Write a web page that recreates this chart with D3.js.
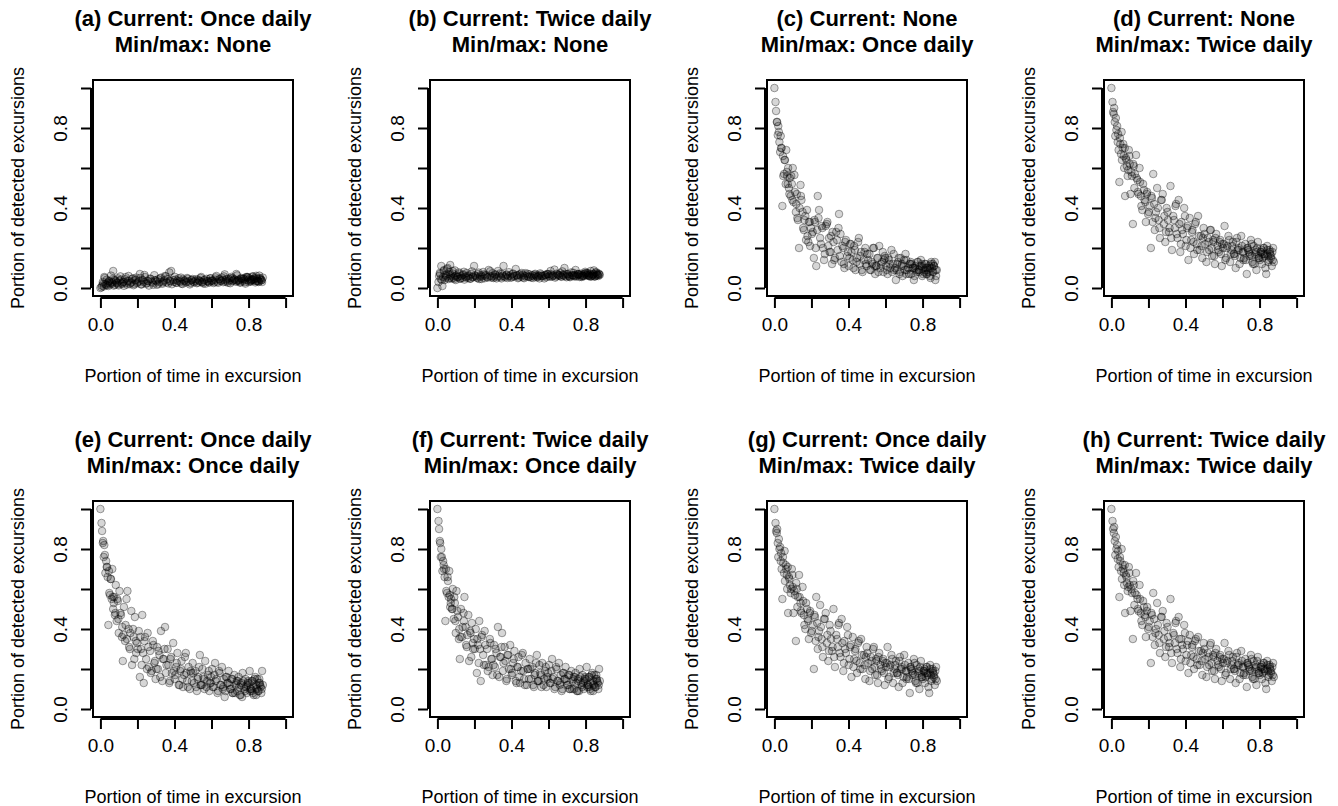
<!DOCTYPE html>
<html>
<head>
<meta charset="utf-8">
<script src="https://cdn.jsdelivr.net/npm/d3@7"></script>
<style>
  body { margin: 0; background: #fff; }
  text { font-family: "Liberation Sans", Arial, sans-serif; fill: #000; }
</style>
</head>
<body>
<div id="chart"></div>
<script>
// portion of time in excursion (same simulated series in every panel)
var timeInExcursion = [
  0.000, 0.006, 0.009, 0.013, 0.018, 0.021, 0.027, 0.031, 0.034, 0.039,
  0.043, 0.046, 0.052, 0.057, 0.061, 0.064, 0.069, 0.074, 0.078, 0.083,
  0.088, 0.094, 0.099, 0.103, 0.108, 0.116, 0.121, 0.127, 0.133, 0.141,
  0.146, 0.152, 0.159, 0.167, 0.171, 0.179, 0.186, 0.193, 0.198, 0.207,
  0.213, 0.219, 0.226, 0.234, 0.241, 0.247, 0.255, 0.262, 0.268, 0.277,
  0.283, 0.291, 0.298, 0.306, 0.311, 0.319, 0.327, 0.334, 0.342, 0.349,
  0.357, 0.363, 0.372, 0.378, 0.386, 0.393, 0.401, 0.409, 0.416, 0.423,
  0.431, 0.438, 0.446, 0.452, 0.461, 0.468, 0.476, 0.483, 0.491, 0.498,
  0.506, 0.513, 0.521, 0.528, 0.537, 0.544, 0.551, 0.559, 0.566, 0.573,
  0.581, 0.588, 0.596, 0.603, 0.611, 0.619, 0.626, 0.632, 0.641, 0.648,
  0.656, 0.663, 0.671, 0.678, 0.686, 0.692, 0.701, 0.708, 0.716, 0.723,
  0.731, 0.738, 0.746, 0.753, 0.761, 0.768, 0.776, 0.783, 0.791, 0.798,
  0.806, 0.813, 0.821, 0.828, 0.836, 0.843, 0.851, 0.858, 0.866, 0.873,
  0.861, 0.869, 0.877, 0.845, 0.832, 0.818, 0.802, 0.787, 0.765, 0.742,
  0.015, 0.024, 0.036, 0.048, 0.055, 0.067, 0.072, 0.081, 0.091, 0.097,
  0.111, 0.118, 0.124, 0.136, 0.143, 0.155, 0.162, 0.176, 0.183, 0.191,
  0.202, 0.216, 0.223, 0.231, 0.238, 0.251, 0.259, 0.272, 0.286, 0.295,
  0.303, 0.314, 0.323, 0.338, 0.346, 0.353, 0.367, 0.375, 0.382, 0.397,
  0.405, 0.412, 0.427, 0.435, 0.443, 0.456, 0.464, 0.472, 0.487, 0.494,
  0.502, 0.517, 0.525, 0.533, 0.541, 0.555, 0.562, 0.577, 0.585, 0.592,
  0.607, 0.615, 0.622, 0.636, 0.644, 0.652, 0.667, 0.675, 0.682, 0.697,
  0.705, 0.712, 0.727, 0.734, 0.749, 0.757, 0.772, 0.779, 0.794, 0.809,
  0.817, 0.824, 0.839, 0.847, 0.854, 0.862, 0.871, 0.856, 0.841, 0.826,
  0.811, 0.796, 0.781, 0.758, 0.736, 0.713, 0.689, 0.661, 0.598, 0.549
];

// portion of detected excursions, one array per panel
var detectedA = [
  0.000, 0.004, 0.012, 0.030, 0.008, 0.055, 0.020, 0.015, 0.041, 0.025,
  0.010, 0.035, 0.018, 0.062, 0.028, 0.022, 0.085, 0.040, 0.016, 0.032,
  0.024, 0.048, 0.013, 0.037, 0.058, 0.021, 0.030, 0.011, 0.044, 0.026,
  0.035, 0.060, 0.019, 0.028, 0.046, 0.014, 0.038, 0.052, 0.024, 0.033,
  0.070, 0.018, 0.041, 0.029, 0.055, 0.022, 0.036, 0.012, 0.047, 0.031,
  0.025, 0.064, 0.038, 0.016, 0.043, 0.030, 0.052, 0.021, 0.035, 0.060,
  0.028, 0.045, 0.078, 0.033, 0.019, 0.040, 0.056, 0.026, 0.037, 0.048,
  0.030, 0.022, 0.043, 0.035, 0.027, 0.050, 0.032, 0.018, 0.039, 0.045,
  0.028, 0.036, 0.024, 0.041, 0.033, 0.055, 0.029, 0.038, 0.021, 0.046,
  0.034, 0.027, 0.049, 0.037, 0.025, 0.042, 0.060, 0.031, 0.045, 0.036,
  0.052, 0.029, 0.068, 0.040, 0.033, 0.047, 0.024, 0.056, 0.038, 0.044,
  0.031, 0.063, 0.042, 0.027, 0.050, 0.036, 0.045, 0.022, 0.054, 0.039,
  0.047, 0.033, 0.058, 0.040, 0.028, 0.051, 0.036, 0.062, 0.043, 0.030,
  0.045, 0.038, 0.052, 0.034, 0.048, 0.041, 0.030, 0.055, 0.046, 0.037,
  0.022, 0.050, 0.014, 0.033, 0.026, 0.045, 0.012, 0.038, 0.027, 0.019,
  0.042, 0.023, 0.031, 0.054, 0.017, 0.036, 0.025, 0.048, 0.020, 0.041,
  0.029, 0.050, 0.018, 0.037, 0.065, 0.024, 0.034, 0.045, 0.016, 0.039,
  0.033, 0.021, 0.048, 0.028, 0.040, 0.058, 0.023, 0.036, 0.085, 0.030,
  0.042, 0.026, 0.035, 0.052, 0.020, 0.038, 0.031, 0.046, 0.025, 0.040,
  0.032, 0.044, 0.027, 0.036, 0.050, 0.023, 0.041, 0.034, 0.029, 0.048,
  0.037, 0.030, 0.053, 0.026, 0.043, 0.035, 0.058, 0.031, 0.046, 0.039,
  0.049, 0.034, 0.041, 0.070, 0.036, 0.028, 0.047, 0.039, 0.055, 0.033,
  0.042, 0.057, 0.035, 0.045, 0.030, 0.050, 0.040, 0.033, 0.061, 0.044,
  0.038, 0.052, 0.029, 0.046, 0.035, 0.049, 0.026, 0.041, 0.036, 0.030
];
var detectedB = [
  0.000, 0.030, 0.060, 0.075, 0.045, 0.110, 0.010, 0.055, 0.085, 0.040,
  0.065, 0.050, 0.095, 0.070, 0.045, 0.080, 0.115, 0.058, 0.048, 0.072,
  0.052, 0.088, 0.040, 0.063, 0.055, 0.078, 0.046, 0.060, 0.050, 0.068,
  0.042, 0.057, 0.075, 0.051, 0.062, 0.047, 0.083, 0.056, 0.110, 0.060,
  0.053, 0.070, 0.045, 0.064, 0.058, 0.080, 0.049, 0.066, 0.055, 0.090,
  0.061, 0.052, 0.074, 0.057, 0.068, 0.048, 0.085, 0.060, 0.054, 0.071,
  0.110, 0.058, 0.066, 0.050, 0.079, 0.062, 0.055, 0.072, 0.060, 0.095,
  0.063, 0.053, 0.070, 0.058, 0.066, 0.049, 0.074, 0.061, 0.056, 0.068,
  0.052, 0.064, 0.058, 0.071, 0.055, 0.062, 0.048, 0.067, 0.059, 0.060,
  0.065, 0.054, 0.070, 0.060, 0.085, 0.057, 0.063, 0.092, 0.058, 0.068,
  0.061, 0.075, 0.056, 0.066, 0.100, 0.059, 0.070, 0.062, 0.054, 0.078,
  0.064, 0.058, 0.090, 0.061, 0.067, 0.055, 0.072, 0.063, 0.059, 0.081,
  0.066, 0.074, 0.060, 0.085, 0.062, 0.070, 0.057, 0.079, 0.065, 0.068,
  0.072, 0.060, 0.066, 0.088, 0.058, 0.064, 0.075, 0.061, 0.070, 0.063,
  0.070, 0.040, 0.090, 0.058, 0.100, 0.050, 0.066, 0.085, 0.045, 0.060,
  0.055, 0.072, 0.048, 0.065, 0.081, 0.052, 0.059, 0.046, 0.070, 0.054,
  0.063, 0.049, 0.077, 0.057, 0.045, 0.068, 0.060, 0.052, 0.084, 0.058,
  0.050, 0.066, 0.056, 0.073, 0.048, 0.061, 0.054, 0.067, 0.059, 0.051,
  0.070, 0.057, 0.063, 0.049, 0.065, 0.075, 0.053, 0.060, 0.071, 0.055,
  0.058, 0.050, 0.067, 0.062, 0.054, 0.073, 0.060, 0.048, 0.064, 0.070,
  0.056, 0.068, 0.061, 0.052, 0.072, 0.066, 0.058, 0.083, 0.062, 0.054,
  0.069, 0.060, 0.064, 0.076, 0.057, 0.071, 0.063, 0.055, 0.068, 0.074,
  0.060, 0.070, 0.064, 0.058, 0.077, 0.066, 0.072, 0.061, 0.069, 0.057,
  0.065, 0.073, 0.059, 0.068, 0.062, 0.057, 0.071, 0.064, 0.069, 0.060
];
var detectedC = [
  1.000, 0.930, 0.885, 0.830, 0.765, 0.810, 0.730, 0.680, 0.760, 0.700,
  0.410, 0.660, 0.570, 0.640, 0.520, 0.690, 0.560, 0.600, 0.500, 0.550,
  0.460, 0.520, 0.600, 0.430, 0.565, 0.380, 0.470, 0.340, 0.200, 0.515,
  0.440, 0.380, 0.290, 0.360, 0.240, 0.260, 0.330, 0.210, 0.300, 0.280,
  0.150, 0.330, 0.110, 0.460, 0.390, 0.250, 0.310, 0.200, 0.140, 0.310,
  0.320, 0.210, 0.180, 0.260, 0.120, 0.230, 0.150, 0.280, 0.190, 0.370,
  0.270, 0.130, 0.200, 0.100, 0.240, 0.160, 0.110, 0.220, 0.180, 0.140,
  0.210, 0.090, 0.150, 0.230, 0.120, 0.180, 0.080, 0.140, 0.200, 0.110,
  0.140, 0.170, 0.090, 0.120, 0.200, 0.070, 0.110, 0.150, 0.210, 0.100,
  0.130, 0.080, 0.160, 0.110, 0.070, 0.140, 0.100, 0.190, 0.120, 0.090,
  0.040, 0.120, 0.150, 0.080, 0.110, 0.060, 0.140, 0.170, 0.090, 0.100,
  0.120, 0.070, 0.100, 0.040, 0.110, 0.080, 0.130, 0.090, 0.140, 0.060,
  0.100, 0.120, 0.070, 0.090, 0.110, 0.050, 0.100, 0.080, 0.130, 0.060,
  0.110, 0.040, 0.090, 0.120, 0.080, 0.100, 0.070, 0.110, 0.090, 0.120,
  0.830, 0.780, 0.700, 0.560, 0.640, 0.580, 0.520, 0.470, 0.560, 0.440,
  0.480, 0.420, 0.350, 0.400, 0.460, 0.300, 0.340, 0.390, 0.230, 0.330,
  0.270, 0.340, 0.200, 0.290, 0.350, 0.220, 0.300, 0.170, 0.330, 0.250,
  0.180, 0.280, 0.140, 0.240, 0.300, 0.160, 0.210, 0.120, 0.230, 0.180,
  0.150, 0.220, 0.100, 0.190, 0.130, 0.250, 0.160, 0.090, 0.180, 0.120,
  0.170, 0.090, 0.130, 0.200, 0.110, 0.150, 0.080, 0.120, 0.180, 0.140,
  0.090, 0.150, 0.120, 0.080, 0.170, 0.100, 0.130, 0.070, 0.150, 0.110,
  0.090, 0.140, 0.070, 0.120, 0.100, 0.060, 0.130, 0.090, 0.110, 0.080,
  0.120, 0.070, 0.100, 0.130, 0.080, 0.110, 0.090, 0.120, 0.060, 0.100,
  0.090, 0.120, 0.080, 0.100, 0.130, 0.070, 0.120, 0.090, 0.150, 0.110
];
var detectedD = [
  1.000, 0.930, 0.880, 0.870, 0.830, 0.760, 0.790, 0.810, 0.730, 0.690,
  0.530, 0.750, 0.670, 0.640, 0.700, 0.720, 0.600, 0.460, 0.650, 0.610,
  0.560, 0.690, 0.620, 0.470, 0.580, 0.320, 0.610, 0.570, 0.665, 0.540,
  0.470, 0.600, 0.460, 0.390, 0.520, 0.440, 0.330, 0.480, 0.370, 0.410,
  0.200, 0.450, 0.570, 0.290, 0.380, 0.500, 0.340, 0.250, 0.440, 0.470,
  0.320, 0.230, 0.400, 0.340, 0.280, 0.510, 0.190, 0.360, 0.300, 0.420,
  0.250, 0.440, 0.180, 0.330, 0.270, 0.400, 0.210, 0.300, 0.140, 0.350,
  0.240, 0.290, 0.170, 0.320, 0.220, 0.360, 0.190, 0.260, 0.150, 0.300,
  0.220, 0.130, 0.250, 0.190, 0.290, 0.160, 0.230, 0.120, 0.270, 0.210,
  0.180, 0.240, 0.110, 0.200, 0.310, 0.150, 0.210, 0.260, 0.130, 0.190,
  0.230, 0.170, 0.100, 0.250, 0.200, 0.120, 0.260, 0.180, 0.150, 0.220,
  0.070, 0.190, 0.160, 0.240, 0.130, 0.210, 0.170, 0.090, 0.230, 0.150,
  0.180, 0.120, 0.200, 0.160, 0.070, 0.190, 0.140, 0.170, 0.110, 0.200,
  0.150, 0.180, 0.130, 0.160, 0.100, 0.170, 0.140, 0.200, 0.120, 0.180,
  0.900, 0.850, 0.770, 0.720, 0.780, 0.660, 0.700, 0.640, 0.590, 0.660,
  0.560, 0.620, 0.500, 0.550, 0.480, 0.530, 0.410, 0.490, 0.430, 0.470,
  0.380, 0.460, 0.330, 0.420, 0.350, 0.400, 0.300, 0.440, 0.360, 0.280,
  0.380, 0.300, 0.250, 0.340, 0.410, 0.270, 0.320, 0.220, 0.290, 0.360,
  0.240, 0.310, 0.200, 0.280, 0.230, 0.330, 0.190, 0.260, 0.210, 0.250,
  0.270, 0.180, 0.230, 0.290, 0.200, 0.160, 0.250, 0.190, 0.230, 0.170,
  0.220, 0.140, 0.200, 0.240, 0.170, 0.210, 0.160, 0.230, 0.190, 0.150,
  0.210, 0.180, 0.140, 0.200, 0.170, 0.220, 0.120, 0.190, 0.160, 0.180,
  0.150, 0.200, 0.170, 0.130, 0.190, 0.160, 0.140, 0.180, 0.210, 0.170,
  0.190, 0.150, 0.180, 0.160, 0.200, 0.140, 0.190, 0.170, 0.220, 0.240
];
var detectedE = [
  1.000, 0.930, 0.890, 0.830, 0.760, 0.820, 0.680, 0.740, 0.710, 0.660,
  0.420, 0.690, 0.570, 0.650, 0.550, 0.700, 0.500, 0.560, 0.470, 0.620,
  0.440, 0.540, 0.380, 0.590, 0.480, 0.360, 0.240, 0.510, 0.340, 0.550,
  0.590, 0.400, 0.300, 0.490, 0.220, 0.360, 0.460, 0.280, 0.330, 0.390,
  0.160, 0.300, 0.470, 0.130, 0.360, 0.250, 0.380, 0.210, 0.290, 0.190,
  0.340, 0.230, 0.150, 0.310, 0.200, 0.270, 0.390, 0.140, 0.250, 0.410,
  0.220, 0.300, 0.130, 0.250, 0.180, 0.330, 0.150, 0.210, 0.280, 0.120,
  0.190, 0.240, 0.110, 0.170, 0.280, 0.140, 0.210, 0.100, 0.180, 0.230,
  0.130, 0.190, 0.090, 0.160, 0.270, 0.120, 0.200, 0.150, 0.240, 0.110,
  0.170, 0.090, 0.130, 0.200, 0.110, 0.230, 0.150, 0.080, 0.190, 0.120,
  0.210, 0.110, 0.060, 0.160, 0.130, 0.190, 0.100, 0.150, 0.080, 0.170,
  0.120, 0.090, 0.160, 0.070, 0.130, 0.180, 0.110, 0.150, 0.080, 0.140,
  0.190, 0.100, 0.140, 0.070, 0.160, 0.120, 0.090, 0.150, 0.110, 0.190,
  0.130, 0.080, 0.120, 0.100, 0.150, 0.090, 0.130, 0.110, 0.060, 0.140,
  0.840, 0.770, 0.710, 0.580, 0.650, 0.560, 0.530, 0.480, 0.550, 0.450,
  0.470, 0.410, 0.370, 0.420, 0.350, 0.310, 0.380, 0.400, 0.250, 0.340,
  0.300, 0.360, 0.220, 0.280, 0.340, 0.200, 0.310, 0.180, 0.320, 0.240,
  0.200, 0.290, 0.160, 0.250, 0.300, 0.180, 0.220, 0.140, 0.260, 0.190,
  0.170, 0.230, 0.120, 0.200, 0.150, 0.260, 0.180, 0.110, 0.190, 0.140,
  0.180, 0.110, 0.150, 0.210, 0.120, 0.160, 0.100, 0.140, 0.190, 0.130,
  0.110, 0.170, 0.140, 0.090, 0.180, 0.120, 0.150, 0.090, 0.160, 0.120,
  0.100, 0.150, 0.080, 0.130, 0.110, 0.070, 0.140, 0.100, 0.120, 0.090,
  0.140, 0.080, 0.110, 0.150, 0.090, 0.120, 0.100, 0.130, 0.070, 0.110,
  0.100, 0.130, 0.090, 0.120, 0.140, 0.080, 0.130, 0.100, 0.160, 0.120
];
var detectedF = [
  1.000, 0.940, 0.900, 0.840, 0.760, 0.800, 0.690, 0.740, 0.720, 0.660,
  0.440, 0.700, 0.580, 0.640, 0.560, 0.690, 0.510, 0.550, 0.500, 0.600,
  0.450, 0.530, 0.380, 0.590, 0.490, 0.350, 0.250, 0.500, 0.360, 0.480,
  0.560, 0.410, 0.310, 0.470, 0.240, 0.380, 0.430, 0.300, 0.350, 0.400,
  0.180, 0.320, 0.440, 0.140, 0.370, 0.270, 0.390, 0.220, 0.300, 0.210,
  0.350, 0.250, 0.170, 0.320, 0.210, 0.280, 0.410, 0.160, 0.260, 0.380,
  0.230, 0.310, 0.140, 0.270, 0.200, 0.320, 0.170, 0.230, 0.290, 0.140,
  0.210, 0.260, 0.130, 0.190, 0.280, 0.150, 0.230, 0.120, 0.200, 0.250,
  0.150, 0.210, 0.110, 0.180, 0.270, 0.140, 0.220, 0.170, 0.230, 0.120,
  0.190, 0.110, 0.150, 0.220, 0.130, 0.250, 0.160, 0.100, 0.210, 0.140,
  0.230, 0.130, 0.090, 0.180, 0.150, 0.210, 0.120, 0.170, 0.100, 0.190,
  0.140, 0.100, 0.180, 0.090, 0.150, 0.200, 0.130, 0.170, 0.100, 0.160,
  0.210, 0.120, 0.160, 0.090, 0.180, 0.140, 0.110, 0.170, 0.130, 0.200,
  0.150, 0.100, 0.140, 0.120, 0.170, 0.110, 0.150, 0.130, 0.090, 0.160,
  0.830, 0.760, 0.700, 0.590, 0.660, 0.570, 0.530, 0.500, 0.560, 0.440,
  0.460, 0.400, 0.360, 0.410, 0.440, 0.320, 0.370, 0.390, 0.260, 0.330,
  0.300, 0.350, 0.230, 0.300, 0.360, 0.220, 0.320, 0.190, 0.330, 0.250,
  0.220, 0.300, 0.170, 0.260, 0.310, 0.190, 0.240, 0.150, 0.270, 0.200,
  0.180, 0.250, 0.130, 0.210, 0.160, 0.270, 0.190, 0.120, 0.200, 0.150,
  0.200, 0.120, 0.170, 0.230, 0.140, 0.180, 0.110, 0.150, 0.210, 0.160,
  0.130, 0.190, 0.150, 0.110, 0.200, 0.140, 0.170, 0.100, 0.180, 0.140,
  0.120, 0.170, 0.100, 0.150, 0.130, 0.090, 0.160, 0.120, 0.140, 0.110,
  0.160, 0.100, 0.130, 0.170, 0.110, 0.140, 0.120, 0.150, 0.090, 0.130,
  0.120, 0.150, 0.110, 0.140, 0.160, 0.100, 0.150, 0.120, 0.180, 0.140
];
var detectedG = [
  1.000, 0.930, 0.890, 0.880, 0.830, 0.760, 0.800, 0.810, 0.740, 0.700,
  0.550, 0.760, 0.680, 0.640, 0.720, 0.700, 0.600, 0.480, 0.660, 0.620,
  0.580, 0.700, 0.610, 0.480, 0.590, 0.340, 0.600, 0.560, 0.670, 0.530,
  0.480, 0.610, 0.470, 0.400, 0.530, 0.450, 0.350, 0.490, 0.380, 0.420,
  0.200, 0.460, 0.560, 0.300, 0.390, 0.520, 0.350, 0.260, 0.450, 0.480,
  0.330, 0.240, 0.420, 0.350, 0.290, 0.500, 0.210, 0.370, 0.310, 0.430,
  0.260, 0.450, 0.190, 0.340, 0.280, 0.410, 0.220, 0.310, 0.160, 0.360,
  0.250, 0.300, 0.180, 0.330, 0.230, 0.350, 0.200, 0.270, 0.150, 0.310,
  0.230, 0.140, 0.260, 0.200, 0.310, 0.170, 0.240, 0.130, 0.280, 0.220,
  0.190, 0.250, 0.120, 0.210, 0.310, 0.160, 0.220, 0.270, 0.130, 0.200,
  0.240, 0.180, 0.110, 0.260, 0.210, 0.130, 0.270, 0.190, 0.160, 0.230,
  0.080, 0.200, 0.170, 0.250, 0.140, 0.220, 0.180, 0.100, 0.240, 0.160,
  0.190, 0.130, 0.210, 0.170, 0.080, 0.200, 0.150, 0.180, 0.120, 0.210,
  0.160, 0.190, 0.140, 0.170, 0.110, 0.180, 0.150, 0.210, 0.130, 0.190,
  0.900, 0.850, 0.780, 0.730, 0.790, 0.670, 0.710, 0.650, 0.600, 0.670,
  0.570, 0.630, 0.510, 0.560, 0.490, 0.540, 0.420, 0.500, 0.440, 0.480,
  0.390, 0.470, 0.340, 0.430, 0.360, 0.410, 0.310, 0.450, 0.370, 0.290,
  0.390, 0.310, 0.260, 0.350, 0.420, 0.280, 0.330, 0.230, 0.300, 0.370,
  0.250, 0.320, 0.210, 0.290, 0.240, 0.340, 0.200, 0.270, 0.220, 0.260,
  0.280, 0.190, 0.240, 0.300, 0.210, 0.170, 0.260, 0.200, 0.240, 0.180,
  0.230, 0.150, 0.210, 0.250, 0.180, 0.220, 0.170, 0.240, 0.200, 0.160,
  0.220, 0.190, 0.150, 0.210, 0.180, 0.230, 0.130, 0.200, 0.170, 0.190,
  0.160, 0.210, 0.180, 0.140, 0.200, 0.170, 0.150, 0.190, 0.220, 0.180,
  0.200, 0.160, 0.190, 0.170, 0.210, 0.150, 0.200, 0.180, 0.230, 0.250
];
var detectedH = [
  1.000, 0.940, 0.900, 0.880, 0.840, 0.770, 0.800, 0.820, 0.750, 0.710,
  0.560, 0.760, 0.690, 0.650, 0.720, 0.700, 0.620, 0.480, 0.670, 0.630,
  0.590, 0.710, 0.620, 0.490, 0.600, 0.350, 0.620, 0.580, 0.680, 0.550,
  0.490, 0.620, 0.480, 0.420, 0.540, 0.470, 0.360, 0.510, 0.400, 0.440,
  0.230, 0.470, 0.580, 0.320, 0.400, 0.530, 0.370, 0.280, 0.460, 0.490,
  0.350, 0.260, 0.430, 0.360, 0.310, 0.550, 0.230, 0.380, 0.330, 0.440,
  0.280, 0.460, 0.210, 0.350, 0.300, 0.420, 0.240, 0.320, 0.180, 0.370,
  0.270, 0.320, 0.200, 0.340, 0.250, 0.360, 0.220, 0.290, 0.170, 0.330,
  0.250, 0.160, 0.280, 0.220, 0.330, 0.190, 0.260, 0.150, 0.300, 0.240,
  0.210, 0.270, 0.140, 0.230, 0.330, 0.180, 0.240, 0.290, 0.150, 0.220,
  0.260, 0.200, 0.130, 0.280, 0.230, 0.150, 0.290, 0.210, 0.180, 0.250,
  0.110, 0.220, 0.190, 0.270, 0.160, 0.240, 0.200, 0.120, 0.260, 0.180,
  0.210, 0.150, 0.230, 0.190, 0.100, 0.220, 0.170, 0.200, 0.140, 0.230,
  0.180, 0.210, 0.160, 0.190, 0.130, 0.200, 0.170, 0.240, 0.150, 0.210,
  0.910, 0.860, 0.790, 0.740, 0.800, 0.680, 0.720, 0.660, 0.610, 0.680,
  0.580, 0.640, 0.520, 0.570, 0.500, 0.550, 0.440, 0.510, 0.460, 0.490,
  0.410, 0.480, 0.360, 0.450, 0.380, 0.420, 0.330, 0.460, 0.390, 0.310,
  0.410, 0.330, 0.280, 0.370, 0.430, 0.300, 0.350, 0.250, 0.320, 0.380,
  0.270, 0.340, 0.230, 0.310, 0.260, 0.350, 0.220, 0.290, 0.240, 0.280,
  0.300, 0.210, 0.260, 0.320, 0.230, 0.190, 0.280, 0.220, 0.260, 0.200,
  0.250, 0.170, 0.230, 0.270, 0.200, 0.240, 0.190, 0.260, 0.220, 0.180,
  0.240, 0.210, 0.170, 0.230, 0.200, 0.250, 0.150, 0.220, 0.190, 0.210,
  0.180, 0.230, 0.200, 0.160, 0.220, 0.190, 0.170, 0.210, 0.240, 0.200,
  0.220, 0.180, 0.210, 0.190, 0.230, 0.170, 0.220, 0.200, 0.250, 0.270
];

var titleLine1 = ["(a) Current: Once daily", "(b) Current: Twice daily", "(c) Current: None", "(d) Current: None",
                  "(e) Current: Once daily", "(f) Current: Twice daily", "(g) Current: Once daily", "(h) Current: Twice daily"];
var titleLine2 = ["Min/max: None", "Min/max: None", "Min/max: Once daily", "Min/max: Twice daily",
                  "Min/max: Once daily", "Min/max: Once daily", "Min/max: Twice daily", "Min/max: Twice daily"];
var panelValues = [detectedA, detectedB, detectedC, detectedD, detectedE, detectedF, detectedG, detectedH];
var tickValues = [0, 0.2, 0.4, 0.6, 0.8, 1.0];
var labelledTicks = [0, 0.4, 0.8];

var boxW = 200, boxH = 216;
var svg = d3.select("#chart").append("svg")
    .attr("width", 1338)
    .attr("height", 806);

var x = d3.scaleLinear().domain([-0.04, 1.04]).range([0, boxW]);
var y = d3.scaleLinear().domain([-0.04, 1.04]).range([boxH, 0]);

function tickFmt(d) {
  return labelledTicks.indexOf(d) >= 0 ? d3.format(".1f")(d) : "";
}

panelValues.forEach(function(vals, i) {
  var col = i % 4, row = Math.floor(i / 4);
  var g = svg.append("g")
      .attr("transform", "translate(" + (93 + 337 * col) + "," + (80 + 421 * row) + ")");

  // points
  g.selectAll("circle")
    .data(vals)
    .enter().append("circle")
      .attr("cx", function(d, j) { return x(timeInExcursion[j]); })
      .attr("cy", function(d) { return y(d); })
      .attr("r", 3.8)
      .attr("fill", "rgba(0,0,0,0.16)")
      .attr("stroke", "rgba(0,0,0,0.36)")
      .attr("stroke-width", 1);

  // box
  g.append("rect")
    .attr("width", boxW).attr("height", boxH)
    .attr("fill", "none").attr("stroke", "#000").attr("stroke-width", 2);

  // y axis
  var ya = g.append("g")
      .attr("transform", "translate(-2,0)")
      .call(d3.axisLeft(y).tickValues(tickValues).tickSize(10).tickFormat(tickFmt));
  ya.select(".domain").attr("stroke-width", 2).attr("d", "M0," + y(0) + "V" + y(1));
  ya.selectAll(".tick line").attr("stroke-width", 2);
  ya.selectAll(".tick text")
    .attr("x", null).attr("dy", null)
    .attr("transform", "translate(-24,0) rotate(-90)")
    .attr("text-anchor", "middle")
    .style("font-size", "19px").style("font-family", "'Liberation Sans', Arial, sans-serif");

  // x axis
  var xa = g.append("g")
      .attr("transform", "translate(0," + (boxH + 2) + ")")
      .call(d3.axisBottom(x).tickValues(tickValues).tickSize(10).tickFormat(tickFmt));
  xa.select(".domain").attr("stroke-width", 2).attr("d", "M" + x(0) + ",0H" + x(1));
  xa.selectAll(".tick line").attr("stroke-width", 2);
  xa.selectAll(".tick text")
    .attr("y", 20)
    .style("font-size", "19px").style("font-family", "'Liberation Sans', Arial, sans-serif");

  // titles
  g.append("text")
    .attr("x", boxW / 2).attr("y", -54)
    .attr("text-anchor", "middle")
    .style("font-size", "22px").style("font-weight", "bold")
    .text(titleLine1[i]);
  g.append("text")
    .attr("x", boxW / 2).attr("y", -28)
    .attr("text-anchor", "middle")
    .style("font-size", "22px").style("font-weight", "bold")
    .text(titleLine2[i]);

  // axis titles
  g.append("text")
    .attr("x", boxW / 2).attr("y", 302)
    .attr("text-anchor", "middle")
    .style("font-size", "18px")
    .text("Portion of time in excursion");
  g.append("text")
    .attr("transform", "translate(-69," + (boxH / 2) + ") rotate(-90)")
    .attr("text-anchor", "middle")
    .style("font-size", "18px")
    .text("Portion of detected excursions");
});
</script>
</body>
</html>
